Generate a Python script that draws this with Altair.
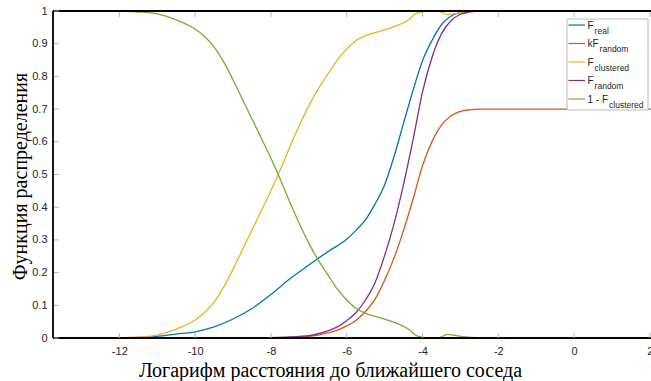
import altair as alt
import pandas as pd

# Plot window in data units (log of nearest-neighbour distance)
X_MIN, X_MAX = -13.75, 2.03
W, H = 598, 327

# Empirical CDF of the real data
x_real = [-13.75, -12, -11.5, -11, -10.5, -10, -9.5, -9, -8.5, -8, -7.5, -7,
          -6.5, -6, -5.75, -5.5, -5.25, -5, -4.75, -4.5, -4.25, -4, -3.75,
          -3.5, -3.25, -3, -2.75, -2.5, 2.03]
f_real = [0, 0, 0.001, 0.005, 0.012, 0.019, 0.034, 0.058, 0.09, 0.133, 0.181,
          0.223, 0.264, 0.302, 0.33, 0.362, 0.41, 0.468, 0.555, 0.657, 0.757,
          0.848, 0.91, 0.958, 0.984, 0.995, 0.999, 1.0, 1.0]

# CDF of the random model
x_rand = [-13.75, -8.5, -8, -7.5, -7, -6.75, -6.5, -6.25, -6, -5.75, -5.5,
          -5.25, -5, -4.75, -4.5, -4.25, -4, -3.75, -3.5, -3.25, -3, -2.75,
          -2.5, 2.03]
f_rand = [0, 0, 0.001, 0.003, 0.007, 0.013, 0.022, 0.034, 0.053, 0.078, 0.117,
          0.17, 0.252, 0.35, 0.47, 0.606, 0.752, 0.858, 0.93, 0.97, 0.99,
          0.997, 1.0, 1.0]
k_random = 0.7

# CDF of the clustered model
x_clu = [-13.75, -12.5, -12, -11.5, -11, -10.5, -10, -9.75, -9.5, -9.25, -9,
         -8.75, -8.5, -8.25, -8, -7.75, -7.5, -7.25, -7, -6.75, -6.5, -6.25,
         -6, -5.75, -5.5, -5.25, -5, -4.75, -4.5, -4.35, -4.2, -4, -3.75,
         -3.55, -3.35, -3.1, -2.75, -2.5, 2.03]
f_clu = [0, 0, 0.001, 0.003, 0.009, 0.027, 0.055, 0.078, 0.11, 0.155, 0.21,
         0.27, 0.33, 0.39, 0.45, 0.515, 0.585, 0.65, 0.71, 0.762, 0.806,
         0.85, 0.884, 0.91, 0.925, 0.934, 0.942, 0.952, 0.964, 0.975, 0.99,
         0.998, 1.0, 0.999, 0.989, 0.993, 0.998, 1.0, 1.0]

x_ticks = [-12, -10, -8, -6, -4, -2, 0, 2]
y_ticks = [0, 0.1, 0.2, 0.3, 0.4, 0.5, 0.6, 0.7, 0.8, 0.9, 1]

series_names = ["F_real", "kF_random", "F_clustered", "F_random", "1 - F_clustered"]
series_colors = ["#0072BD", "#D95319", "#EDB120", "#7E2F8E", "#77AC30"]
legend_main = ["F", "kF", "F", "F", "1 - F"]
legend_sub = ["real", "random", "clustered", "random", "clustered"]

curves = {
    "F_real": (x_real, f_real),
    "kF_random": (x_rand, [k_random * v for v in f_rand]),
    "F_clustered": (x_clu, f_clu),
    "F_random": (x_rand, f_rand),
    "1 - F_clustered": (x_clu, [1 - v for v in f_clu]),
}

xs = alt.Scale(domain=[X_MIN, X_MAX], nice=False, zero=False)
ys = alt.Scale(domain=[0, 1], nice=False, zero=False)
TICK_FONT = "Liberation Sans"
TITLE_FONT = "Liberation Serif"

x_axis = alt.Axis(
    values=x_ticks, labelExpr="'' + datum.value", domain=False, ticks=False,
    grid=False, labelFont=TICK_FONT, labelFontSize=11, labelColor="#262626",
    labelPadding=7, labelFlush=False, labelOverlap=False, labelBound=False,
    title="Логарифм расстояния до ближайшего соседа", titleFont=TITLE_FONT,
    titleFontSize=20, titleFontWeight="normal", titleColor="black",
    titleX=277, titleY=38, titleAlign="center", titleBaseline="alphabetic",
)
y_axis = alt.Axis(
    values=y_ticks, format=".1~f", domain=False, ticks=False, grid=False,
    labelFont=TICK_FONT, labelFontSize=11, labelColor="#262626",
    labelPadding=6, labelOverlap=False,
    title="Функция распределения", titleFont=TITLE_FONT, titleFontSize=20,
    titleFontWeight="normal", titleColor="black", titleAngle=270,
    titleX=-27, titleY=165, titleAlign="center", titleBaseline="alphabetic",
)


def X(field):
    return alt.X(field, scale=xs, axis=x_axis)


def Y(field):
    return alt.Y(field, scale=ys, axis=y_axis)


layers = []
for i, name in enumerate(series_names):
    xv, yv = curves[name]
    df = pd.DataFrame({"x": xv, "y": yv})
    layers.append(
        alt.Chart(df).mark_line(
            color=series_colors[i], strokeWidth=1.3, interpolate="monotone", clip=True
        ).encode(x=X("x:Q"), y=Y("y:Q"))
    )

# Box: bottom, top and left edges
frame_h = alt.Chart(pd.DataFrame({"y": [0, 1]})).mark_rule(
    color="black", strokeWidth=1.8
).encode(y=Y("y:Q"))
frame_v = alt.Chart(pd.DataFrame({"x": [X_MIN]})).mark_rule(
    color="black", strokeWidth=1.8
).encode(x=X("x:Q"))

# Inward tick marks
TICK_COLOR = "#b5b5b5"
xt = pd.DataFrame({"x": x_ticks})
yt = pd.DataFrame({"y": y_ticks})
ticks_bottom = alt.Chart(xt).mark_rule(color=TICK_COLOR, strokeWidth=1).encode(
    x=X("x:Q"), y=alt.value(H), y2=alt.value(H - 5))
ticks_top = alt.Chart(xt).mark_rule(color=TICK_COLOR, strokeWidth=1).encode(
    x=X("x:Q"), y=alt.value(1), y2=alt.value(6))
ticks_left = alt.Chart(yt).mark_rule(color=TICK_COLOR, strokeWidth=1).encode(
    y=Y("y:Q"), x=alt.value(1), x2=alt.value(6))

# Legend box with subscripted labels
LX0, LX1, LY0, LY1 = 514, 595, 8, 99
legend_layers = [
    alt.Chart(pd.DataFrame({"a": [0]})).mark_rect(
        fill="white", stroke="#a8a8a8", strokeWidth=0.8
    ).encode(x=alt.value(LX0), x2=alt.value(LX1), y=alt.value(LY0), y2=alt.value(LY1))
]
ADV = {"F": 0.611, "k": 0.5, "1": 0.556, " ": 0.278, "-": 0.333}
MAIN_SIZE, SUB_SIZE = 10, 8.5
for i, name in enumerate(series_names):
    row_y = 14 + i * 18.5
    main_w = sum(ADV.get(c, 0.55) for c in legend_main[i]) * MAIN_SIZE
    legend_layers.append(
        alt.Chart(pd.DataFrame({"a": [0]})).mark_rule(
            color=series_colors[i], strokeWidth=1.2
        ).encode(x=alt.value(LX0 + 1.5), x2=alt.value(532), y=alt.value(row_y))
    )
    legend_layers.append(
        alt.Chart(pd.DataFrame({"t": [legend_main[i]]})).mark_text(
            align="left", baseline="alphabetic", font=TICK_FONT,
            fontSize=MAIN_SIZE, color="#262626"
        ).encode(x=alt.value(534.5), y=alt.value(row_y + 3.5), text="t:N")
    )
    legend_layers.append(
        alt.Chart(pd.DataFrame({"t": [legend_sub[i]]})).mark_text(
            align="left", baseline="alphabetic", font=TICK_FONT,
            fontSize=SUB_SIZE, color="#262626"
        ).encode(x=alt.value(534.5 + main_w + 1), y=alt.value(row_y + 8.5), text="t:N")
    )

chart = alt.layer(
    *layers, frame_h, frame_v, ticks_bottom, ticks_top, ticks_left, *legend_layers
).properties(
    width=W, height=H,
    autosize=alt.AutoSizeParams(type="none"),
    padding={"left": 53, "top": 11, "right": 0, "bottom": 43},
    background="white",
).configure_view(stroke=None)

chart.save("out.html", embed_options={"renderer": "svg", "actions": False})
